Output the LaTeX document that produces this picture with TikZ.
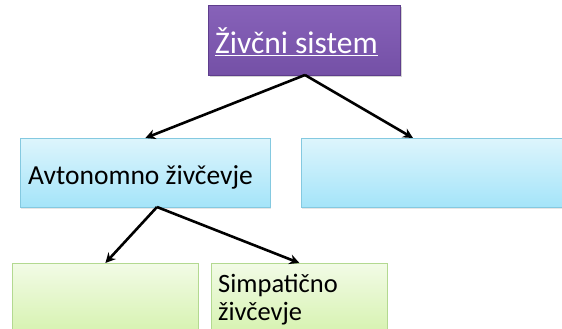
\documentclass[tikz,border=0pt]{standalone}
\usepackage{fontspec}
\setmainfont{Carlito}
\usetikzlibrary{arrows.meta,shadows}
\definecolor{purpT}{HTML}{8762B9}
\definecolor{purpB}{HTML}{7450A6}
\definecolor{purpD}{HTML}{5E3D8C}
\definecolor{blueT}{HTML}{DDF5FC}
\definecolor{blueB}{HTML}{A4E4F9}
\definecolor{blueD}{HTML}{84C9E0}
\definecolor{greenT}{HTML}{F2FBE6}
\definecolor{greenB}{HTML}{D2F1A8}
\definecolor{greenD}{HTML}{B3D990}
\begin{document}
\begin{tikzpicture}[x=1pt,y=-1pt,
  box/.style={rectangle, inner sep=0pt, anchor=north west, line width=0.8pt},
  purplebox/.style={box, draw=purpD, top color=purpT, bottom color=purpB,
    drop shadow={opacity=0.35, shadow xshift=1.5pt, shadow yshift=-2pt}},
  bluebox/.style={box, draw=blueD, top color=blueT, bottom color=blueB,
    drop shadow={opacity=0.2, shadow xshift=1pt, shadow yshift=-1.5pt}},
  greenbox/.style={box, draw=greenD, top color=greenT, bottom color=greenB,
    drop shadow={opacity=0.2, shadow xshift=1pt, shadow yshift=-1.5pt}},
  lbl/.style={anchor=base west, inner sep=0pt},
  conn/.style={line width=2.6pt, -{Stealth[length=10pt,width=10pt]}}
]
\useasboundingbox (0,0) rectangle (562,329);
\clip (0,0) rectangle (562,329);

\node[purplebox, minimum width=192pt, minimum height=70pt] (top) at (208,5) {};
\node[bluebox, minimum width=250pt, minimum height=69pt] (auto) at (20,138) {};
\node[bluebox, minimum width=280pt, minimum height=69pt] (rb) at (301,138) {};
\node[greenbox, minimum width=186pt, minimum height=80pt] (gl) at (12,263) {};
\node[greenbox, minimum width=176pt, minimum height=80pt] (simp) at (211,263) {};

\node[lbl, text=white, font=\fontsize{31.5}{36}\selectfont] (toptext) at (215,54) {\underline{Živčni sistem}};
\node[lbl, font=\fontsize{27.5}{32}\selectfont] (autotext) at (28,184) {Avtonomno živčevje};
\node[lbl, font=\fontsize{26.5}{30}\selectfont] (simp1) at (218,292) {Simpatično};
\node[lbl, font=\fontsize{26.5}{30}\selectfont] (simp2) at (218,320) {živčevje};

\coordinate (a1) at (305,75);
\coordinate (rbt) at (413,138);
\coordinate (a2) at (157,207);

\draw[conn] (a1) -- (auto.north);
\draw[conn] (a1) -- (rbt);
\draw[conn] (a2) -- (gl.north);
\draw[conn] (a2) -- (simp.north);
\end{tikzpicture}
\end{document}
